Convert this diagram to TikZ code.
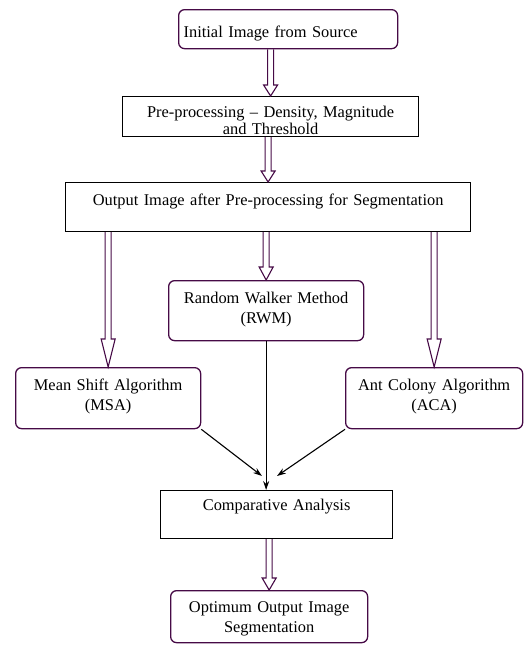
\documentclass[tikz,border=0pt]{standalone}
\usepackage{fontspec}
\setmainfont{Liberation Serif}
\usetikzlibrary{calc,arrows.meta}
\definecolor{boxpurple}{RGB}{70,10,70}
\newcommand\hollowarrow[3]{%
  \draw[hol] let \p1=(#2.north |- #1.south), \p2=(#2.north) in
    (\x1-3pt,\y1) -- (\x1-3pt,\y2+#3pt) -- (\x1-7pt,\y2+#3pt) -- (\x2,\y2)
    -- (\x1+7pt,\y2+#3pt) -- (\x1+3pt,\y2+#3pt) -- (\x1+3pt,\y1);}
\begin{document}
\begin{tikzpicture}[x=1pt,y=1pt,
  every node/.style={inner sep=0pt, font=\fontsize{16.4}{20}\selectfont, align=center, anchor=north west},
  rbox/.style={draw=boxpurple, line width=1.3pt, rounded corners=6pt},
  sbox/.style={draw=black, line width=1.2pt},
  hol/.style={draw=boxpurple, line width=1.1pt, line join=miter},
  conn/.style={draw=black, line width=1.1pt, -{Stealth[length=9pt,width=6pt]}}]
\useasboundingbox (0,0) rectangle (524,-645);

\node[rbox, text width=209pt, inner xsep=5pt, align=left, text height=28pt, text depth=11pt] (init) at (178,-9) {Initial Image from Source};
\node[sbox, text width=296pt, text height=21pt, text depth=19pt, font=\fontsize{16.4}{16.5}\selectfont] (pre) at (122,-96) {Pre-processing – Density, Magnitude\\and Threshold};
\node[sbox, text width=405pt, text height=23pt, text depth=26pt] (out) at (65,-182) {Output Image after Pre-processing for Segmentation};
\node[rbox, text width=195pt, text height=23pt, text depth=37pt] (rwm) at (168,-280) {Random Walker Method\\(RWM)};
\node[rbox, text width=185pt, text height=23pt, text depth=38pt] (msa) at (15,-367) {Mean Shift Algorithm\\(MSA)};
\node[rbox, text width=177pt, text height=23pt, text depth=38pt] (aca) at (345,-367) {Ant Colony Algorithm\\(ACA)};
\node[sbox, text width=232pt, text height=20pt, text depth=28pt] (comp) at (160,-490) {Comparative Analysis};
\node[rbox, text width=197pt, text height=22pt, text depth=30pt] (final) at (170,-590) {Optimum Output Image\\Segmentation};

\hollowarrow{init}{pre}{11}
\hollowarrow{pre}{out}{11}
\hollowarrow{out}{msa}{28}
\hollowarrow{out}{rwm}{13}
\hollowarrow{out}{aca}{28}
\hollowarrow{comp}{final}{12}

\coordinate (cl) at (262,-476);
\coordinate (cr) at (277,-476);
\draw[conn] (msa.south east) -- (cl);
\draw[conn] (aca.south west) -- (cr);
\draw[conn] (rwm.south) -- (comp.north -| rwm.south);
\end{tikzpicture}
\end{document}
